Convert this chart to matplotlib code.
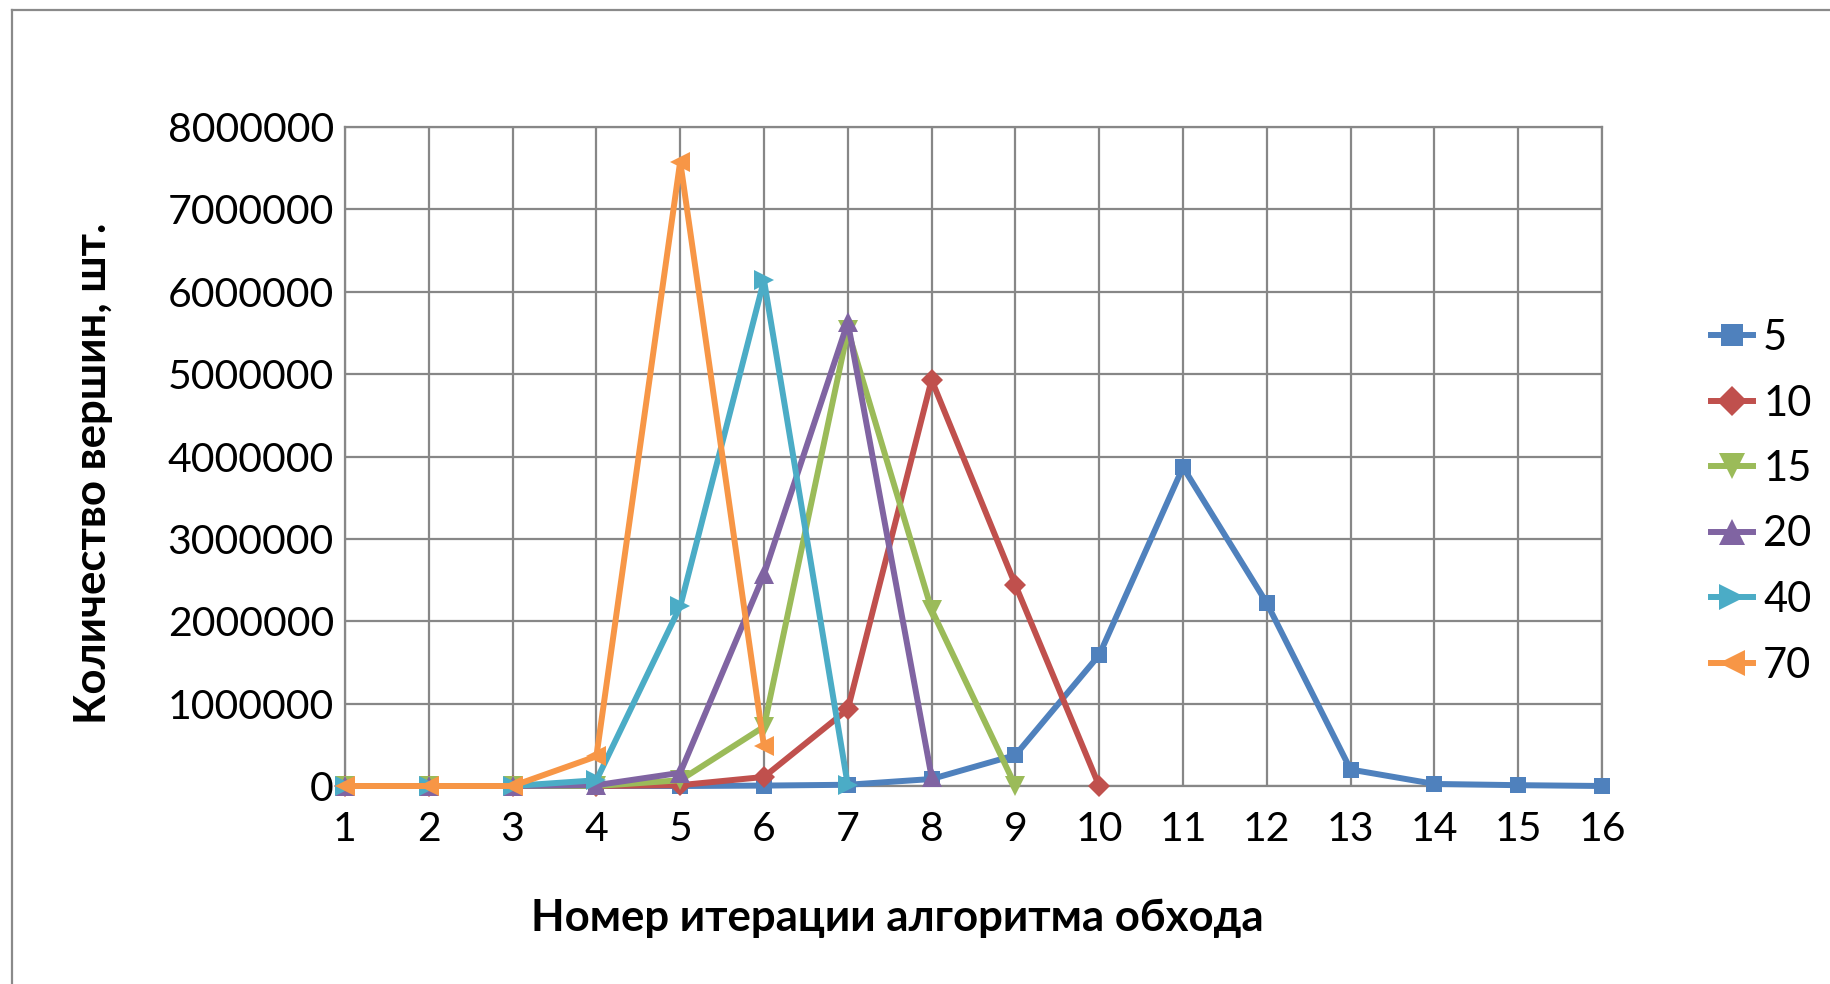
import matplotlib
matplotlib.use("Agg")
import matplotlib.pyplot as plt
from matplotlib.lines import Line2D
from matplotlib.ticker import FixedLocator

plt.rcParams['font.family'] = ['Lato', 'DejaVu Sans']

# iteration numbers and vertex counts per series
iterations = list(range(1, 17))
series_names = ['5', '10', '15', '20', '40', '70']
s5 = [0, 0, 0, 0, 0, 5000, 15000, 85000, 375000, 1590000, 3870000, 2220000, 200000, 25000, 10000, 0]
s10 = [0, 0, 0, 0, 10000, 110000, 930000, 4930000, 2440000, 0]
s15 = [0, 0, 0, 0, 70000, 720000, 5530000, 2140000, 0]
s20 = [0, 0, 0, 10000, 160000, 2570000, 5630000, 110000]
s40 = [0, 0, 0, 70000, 2180000, 6140000, 10000]
s70 = [0, 0, 0, 360000, 7580000, 480000]
y_ticks = [0, 1000000, 2000000, 3000000, 4000000, 5000000, 6000000, 7000000, 8000000]

colors = ['#4F81BD', '#C0504D', '#9BBB59', '#8064A2', '#4BACC6', '#F79646']
markers = ['s', 'D', 'v', '^', '>', '<']
marker_sizes = [12, 11, 14, 14, 14, 14]

fig = plt.figure(figsize=(18.31, 9.84), dpi=100)
ax = fig.add_axes([345 / 1831, 1 - 786 / 984, (1602 - 345) / 1831, (786 - 127) / 984])

all_series = [s5, s10, s15, s20, s40, s70]
for vals, name, c, m, ms in zip(all_series, series_names, colors, markers, marker_sizes):
    ax.plot(iterations[:len(vals)], vals, color=c, lw=4.3, marker=m, ms=ms,
            markeredgewidth=0, label=name, clip_on=False, zorder=3)

ax.set_xlim(1, 16)
ax.set_ylim(0, 8000000)
ax.xaxis.set_major_locator(FixedLocator(iterations))
ax.yaxis.set_major_locator(FixedLocator(y_ticks))
ax.set_xticklabels([str(i) for i in iterations])
ax.set_yticklabels([str(v) for v in y_ticks])
ax.tick_params(length=0, labelsize=29.5, pad=8)
ax.tick_params(axis='x', pad=18)
ax.grid(True, color='#878787', lw=1.6, zorder=0)
for sp in ax.spines.values():
    sp.set_color('#878787')
    sp.set_linewidth(1.6)

fig.text(93 / 1831, 1 - 473 / 984, 'Количество вершин, шт.', rotation=90,
         ha='center', va='center', fontsize=31.5, fontweight='bold')
fig.text(897 / 1831, 1 - 918 / 984, 'Номер итерации алгоритма обхода',
         ha='center', va='center', fontsize=31.5, fontweight='bold')

leg = ax.legend(loc='upper left', bbox_to_anchor=(1711 / 1831, 1 - 319 / 984),
                bbox_transform=fig.transFigure, frameon=False, fontsize=30,
                handlelength=1.0, handletextpad=0.25, labelspacing=0.66,
                markerscale=1.35, borderpad=0, borderaxespad=0)

# outer chart frame (only top and left edges fall inside the image)
fig.lines.append(Line2D([12 / 1831, 12 / 1831], [0, 1 - 10 / 984],
                        transform=fig.transFigure, color='#8a8a8a', lw=1.6))
fig.lines.append(Line2D([12 / 1831, 1], [1 - 10 / 984, 1 - 10 / 984],
                        transform=fig.transFigure, color='#8a8a8a', lw=1.6))

fig.savefig('out.png', dpi=100)
